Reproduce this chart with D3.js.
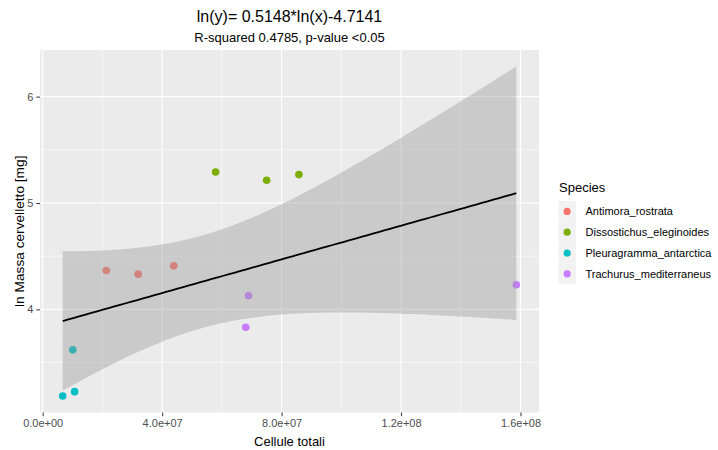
<!DOCTYPE html>
<html>
<head>
<meta charset="utf-8">
<script src="https://cdn.jsdelivr.net/npm/d3@7"></script>
<style>
  html, body { margin: 0; padding: 0; background: #ffffff; }
  svg { display: block; font-family: "Liberation Sans", Arial, sans-serif; }
</style>
</head>
<body>
<svg id="chart" width="718" height="450"></svg>
<script>
// Species groups and their measurements (total cells, ln of cerebellum mass)
const species = ["Antimora_rostrata", "Dissostichus_eleginoides", "Pleuragramma_antarctica", "Trachurus_mediterraneus"];
const speciesColors = ["#F8766D", "#7CAE00", "#00BFC4", "#C77CFF"];

const cellCounts = [
  2.13e7, 3.20e7, 4.39e7,
  5.79e7, 7.50e7, 8.58e7,
  1.01e7, 0.67e7, 1.07e7,
  6.89e7, 6.80e7, 1.586e8
];
const lnMass = [
  4.365, 4.331, 4.409,
  5.292, 5.214, 5.267,
  3.619, 3.185, 3.226,
  4.128, 3.831, 4.231
];
const speciesOf = [0, 0, 0, 1, 1, 1, 2, 2, 2, 3, 3, 3];

const xTicks = [0, 4e7, 8e7, 1.2e8, 1.6e8];
const xTickLabels = ["0.0e+00", "4.0e+07", "8.0e+07", "1.2e+08", "1.6e+08"];
const xMinorTicks = [2e7, 6e7, 1e8, 1.4e8];
const yTicks = [4, 5, 6];
const yMinorTicks = [3.5, 4.5, 5.5];

const titleText = "ln(y)= 0.5148*ln(x)-4.7141";
const subtitleText = "R-squared 0.4785, p-value <0.05";
const xTitle = "Cellule totali";
const yTitle = "ln Massa cervelletto [mg]";
const legendTitle = "Species";

const points = cellCounts.map((x, i) => ({ x, y: lnMass[i], s: speciesOf[i] }));

// Ordinary least squares fit of lnMass on cellCounts with a 95% confidence band
const n = points.length;
const mx = d3.mean(cellCounts), my = d3.mean(lnMass);
const sxx = d3.sum(cellCounts, x => (x - mx) * (x - mx));
const sxy = d3.sum(points, p => (p.x - mx) * (p.y - my));
const slope = sxy / sxx;
const intercept = my - slope * mx;
const sse = d3.sum(points, p => Math.pow(p.y - (intercept + slope * p.x), 2));
const sigma = Math.sqrt(sse / (n - 2));
const tCrit = 2.228139; // Student t, 0.975 quantile, 10 degrees of freedom

const [xLo, xHi] = d3.extent(cellCounts);
const fit = d3.range(80).map(i => {
  const x = xLo + (xHi - xLo) * i / 79;
  const yhat = intercept + slope * x;
  const se = sigma * Math.sqrt(1 / n + (x - mx) * (x - mx) / sxx);
  return { x, y: yhat, lo: yhat - tCrit * se, hi: yhat + tCrit * se };
});

// Panel geometry
const panel = { left: 40, right: 539, top: 50, bottom: 412.5 };

function expand(lo, hi) {
  const pad = (hi - lo) * 0.05;
  return [lo - pad, hi + pad];
}
const yAll = lnMass.concat(fit.map(d => d.lo), fit.map(d => d.hi));

const x = d3.scaleLinear().domain(expand(xLo, xHi)).range([panel.left, panel.right]);
const y = d3.scaleLinear().domain(expand(d3.min(yAll), d3.max(yAll))).range([panel.bottom, panel.top]);
const color = d3.scaleOrdinal().domain(d3.range(species.length)).range(speciesColors);

const svg = d3.select("#chart");
svg.append("rect").attr("width", 718).attr("height", 450).attr("fill", "#ffffff");

// Panel background
svg.append("rect")
  .attr("x", panel.left).attr("y", panel.top)
  .attr("width", panel.right - panel.left).attr("height", panel.bottom - panel.top)
  .attr("fill", "#EBEBEB");

const grid = svg.append("g");
grid.selectAll(".xminor").data(xMinorTicks).join("line")
  .attr("x1", d => x(d)).attr("x2", d => x(d))
  .attr("y1", panel.top).attr("y2", panel.bottom)
  .attr("stroke", "#ffffff").attr("stroke-width", 0.55);
grid.selectAll(".yminor").data(yMinorTicks).join("line")
  .attr("y1", d => y(d)).attr("y2", d => y(d))
  .attr("x1", panel.left).attr("x2", panel.right)
  .attr("stroke", "#ffffff").attr("stroke-width", 0.55);
grid.selectAll(".xmajor").data(xTicks).join("line")
  .attr("x1", d => x(d)).attr("x2", d => x(d))
  .attr("y1", panel.top).attr("y2", panel.bottom)
  .attr("stroke", "#ffffff").attr("stroke-width", 1.1);
grid.selectAll(".ymajor").data(yTicks).join("line")
  .attr("y1", d => y(d)).attr("y2", d => y(d))
  .attr("x1", panel.left).attr("x2", panel.right)
  .attr("stroke", "#ffffff").attr("stroke-width", 1.1);

// Points
svg.append("g").selectAll("circle").data(points).join("circle")
  .attr("cx", d => x(d.x)).attr("cy", d => y(d.y)).attr("r", 3.8)
  .attr("fill", d => color(d.s));

// Confidence band, then fitted line
svg.append("path")
  .datum(fit)
  .attr("d", d3.area().x(d => x(d.x)).y0(d => y(d.lo)).y1(d => y(d.hi)))
  .attr("fill", "#999999").attr("fill-opacity", 0.4);
svg.append("path")
  .datum(fit)
  .attr("d", d3.line().x(d => x(d.x)).y(d => y(d.y)))
  .attr("fill", "none").attr("stroke", "#000000").attr("stroke-width", 1.8);

// Axes
const xAxis = d3.axisBottom(x).tickValues(xTicks).tickFormat((d, i) => xTickLabels[i])
  .tickSize(3.7).tickPadding(3);
const gx = svg.append("g").attr("transform", `translate(0,${panel.bottom})`).call(xAxis);
gx.select(".domain").remove();
gx.selectAll("line").attr("stroke", "#333333").attr("stroke-width", 1);
gx.selectAll("text").attr("fill", "#4D4D4D").attr("font-size", "11px").attr("font-family", null);

const yAxis = d3.axisLeft(y).tickValues(yTicks).tickFormat(d3.format("d"))
  .tickSize(3.7).tickPadding(3);
const gy = svg.append("g").attr("transform", `translate(${panel.left},0)`).call(yAxis);
gy.select(".domain").remove();
gy.selectAll("line").attr("stroke", "#333333").attr("stroke-width", 1);
gy.selectAll("text").attr("fill", "#4D4D4D").attr("font-size", "11px").attr("font-family", null);

// Titles
const cx = (panel.left + panel.right) / 2;
svg.append("text").attr("x", cx).attr("y", 21.5).attr("text-anchor", "middle")
  .attr("font-size", "16px").attr("fill", "#000000").text(titleText);
svg.append("text").attr("x", cx).attr("y", 41.5).attr("text-anchor", "middle")
  .attr("font-size", "13px").attr("fill", "#000000").text(subtitleText);
svg.append("text").attr("x", cx).attr("y", 446).attr("text-anchor", "middle")
  .attr("font-size", "13px").attr("fill", "#000000").text(xTitle);
svg.append("text")
  .attr("transform", `translate(24,${(panel.top + panel.bottom) / 2}) rotate(-90)`)
  .attr("text-anchor", "middle").attr("font-size", "13.7px").attr("fill", "#000000").text(yTitle);

// Legend
const legend = svg.append("g").attr("transform", "translate(558.5,0)");
legend.append("text").attr("x", 0.5).attr("y", 192).attr("font-size", "13px")
  .attr("fill", "#000000").text(legendTitle);
const keyH = 20.8, keyW = 17.3, keyTop = 201;
const keys = legend.selectAll(".key").data(species).join("g")
  .attr("transform", (d, i) => `translate(0,${keyTop + i * keyH})`);
keys.append("rect").attr("width", keyW).attr("height", keyH).attr("fill", "#F2F2F2");
keys.append("circle").attr("cx", keyW / 2).attr("cy", keyH / 2).attr("r", 3.6)
  .attr("fill", (d, i) => color(i));
keys.append("text").attr("x", 27).attr("y", keyH / 2 + 4).attr("font-size", "11px")
  .attr("fill", "#000000").text(d => d);
</script>
</body>
</html>
